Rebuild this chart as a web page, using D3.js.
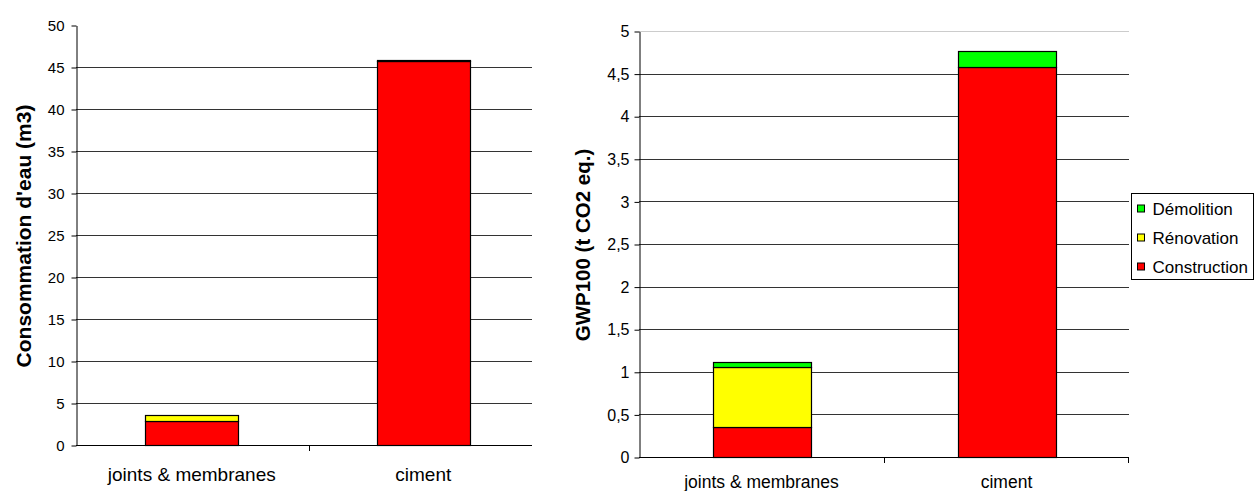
<!DOCTYPE html>
<html><head><meta charset="utf-8">
<script src="https://cdn.jsdelivr.net/npm/d3@7"></script>
<style>body{margin:0;background:#fff;}svg{display:block;font-family:"Liberation Sans",Arial,sans-serif;}</style>
</head><body>
<svg id="c" width="1255" height="491"></svg>
<script>
const categories = ["joints & membranes", "ciment"];
const seriesNames = ["Construction", "Rénovation", "Démolition"];
const seriesColors = ["#FF0000", "#FFFF00", "#00FF00"];
// Water consumption (m3)
const waterConstruction = [2.9, 45.7];
const waterRenovation = [0.7, 0];
const waterDemolition = [0, 0.15];
// GWP100 (t CO2 eq.)
const gwpConstruction = [0.35, 4.58];
const gwpRenovation = [0.705, 0];
const gwpDemolition = [0.065, 0.18];
const waterTicks = [0,5,10,15,20,25,30,35,40,45,50];
const gwpTicks = [0,0.5,1,1.5,2,2.5,3,3.5,4,4.5,5];
const waterTitle = "Consommation d'eau (m3)";
const gwpTitle = "GWP100 (t CO2 eq.)";

const svg = d3.select("#c");
const FONT = "Liberation Sans, Arial, sans-serif";
const fmt = d => String(d).replace(".", ",");

function drawChart(cfg) {
  const g = svg.append("g");
  const x = d3.scaleBand().domain(categories).range([cfg.x0, cfg.x1]).paddingInner(0).paddingOuter(0);
  const y = d3.scaleLinear().domain([0, cfg.max]).range([cfg.yb, cfg.yt]);
  // gridlines
  g.selectAll(".grid").data(cfg.ticks.filter(t => t > 0)).enter().append("line")
    .attr("x1", cfg.x0).attr("x2", cfg.gridEnd)
    .attr("y1", d => Math.round(y(d)) + 0.5).attr("y2", d => Math.round(y(d)) + 0.5)
    .attr("stroke", d => d === cfg.max ? cfg.topColor : "#333").attr("stroke-width", 1);
  // stacked bars
  const rows = categories.map((c, i) => {
    const o = {cat: c};
    seriesNames.forEach((s, k) => o[s] = cfg.series[k][i]);
    return o;
  });
  const stack = d3.stack().keys(seriesNames)(rows);
  const bw = x.bandwidth() * cfg.barFrac;
  stack.forEach((layer, k) => {
    g.selectAll(null).data(layer.filter(d => d[1] - d[0] > 0)).enter().append("rect")
      .attr("x", d => Math.round(x(d.data.cat) + (x.bandwidth() - bw) / 2) + 0.5)
      .attr("y", d => Math.round(y(d[1])) + 0.5)
      .attr("width", Math.round(bw))
      .attr("height", d => Math.max(Math.round(y(d[0])) - Math.round(y(d[1])), 0))
      .attr("fill", seriesColors[k]).attr("stroke", "#000").attr("stroke-width", 1.2);
  });
  // y axis
  const ya = d3.axisLeft(y).tickValues(cfg.ticks).tickFormat(cfg.format).tickSize(5).tickSizeOuter(0);
  const yg = g.append("g").attr("transform", `translate(${cfg.x0 + 0.5},0.5)`).call(ya);
  yg.attr("font-size", null).attr("font-family", null);
  yg.select(".domain").attr("stroke", "#000");
  yg.selectAll(".tick line").attr("stroke", "#000");
  yg.selectAll(".tick text").style("font-size", cfg.tickFont + "px").attr("fill", "#000")
    .attr("x", -cfg.tickPad).style("font-family", FONT);
  // x axis
  const xa = d3.axisBottom(x).tickSize(0).tickSizeOuter(0);
  const xg = g.append("g").attr("transform", `translate(0,${cfg.yb + 0.5})`).call(xa);
  xg.attr("font-size", null).attr("font-family", null);
  xg.select(".domain").remove();
  xg.append("line").attr("x1", cfg.x0).attr("x2", cfg.gridEnd).attr("stroke", "#000");
  xg.selectAll(".tick text").style("font-size", cfg.catFont + "px").attr("fill", "#000")
    .attr("dy", 0).attr("y", cfg.labelY).style("font-family", FONT);
  // category separator ticks
  g.selectAll(null).data(cfg.sepTicks).enter().append("line")
    .attr("x1", d => Math.round(d) + 0.5).attr("x2", d => Math.round(d) + 0.5)
    .attr("y1", cfg.yb).attr("y2", cfg.yb + 6).attr("stroke", "#000");
  // y title
  g.append("text").attr("transform", `translate(${cfg.titleX},${cfg.titleY}) rotate(-90)`)
    .attr("text-anchor", "middle").attr("font-weight", "bold")
    .style("font-size", cfg.titleFont + "px").style("font-family", FONT).text(cfg.title);
}

drawChart({x0: 76, x1: 539, gridEnd: 532, yt: 25, yb: 445, max: 50, ticks: waterTicks,
  format: d => d, series: [waterConstruction, waterRenovation, waterDemolition],
  barFrac: 0.4, labelY: 35, titleX: 31, titleY: 236, title: waterTitle, topColor: "none",
  tickFont: 15, tickPad: 12, catFont: 19, titleFont: 21, sepTicks: [308.5]});

drawChart({x0: 639, x1: 1129, gridEnd: 1129, yt: 31, yb: 457, max: 5, ticks: gwpTicks,
  format: fmt, series: [gwpConstruction, gwpRenovation, gwpDemolition],
  barFrac: 0.4, labelY: 30, titleX: 590, titleY: 245, title: gwpTitle, topColor: "#ccc",
  tickFont: 16, tickPad: 10, catFont: 17.5, titleFont: 20.5, sepTicks: [884, 1128]});

// legend
const leg = svg.append("g").attr("transform", "translate(1131.5,193.5)");
leg.append("rect").attr("width", 122).attr("height", 86).attr("fill", "#fff").attr("stroke", "#000");
const legItems = [2, 1, 0];
legItems.forEach((k, i) => {
  const yy = 15 + i * 29;
  leg.append("rect").attr("x", 6).attr("y", yy - 3.5).attr("width", 7).attr("height", 7)
    .attr("fill", seriesColors[k]).attr("stroke", "#000");
  leg.append("text").attr("x", 21).attr("y", yy + 6).style("font-size", "17px")
    .style("font-family", FONT).text(seriesNames[k]);
});
</script>
</body></html>
